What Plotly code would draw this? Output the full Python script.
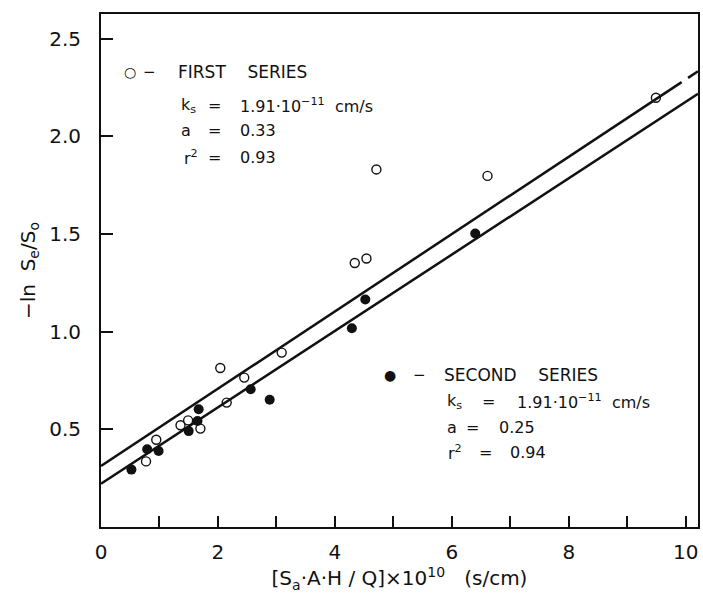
import plotly.graph_objects as go

# ---- data ----
first_x = [9.49, 4.71, 6.61, 4.34, 4.54, 0.77, 0.945, 1.36, 1.49, 1.70, 2.04, 2.45, 3.09, 2.15]
first_y = [2.198, 1.831, 1.798, 1.352, 1.375, 0.336, 0.447, 0.521, 0.546, 0.504, 0.814, 0.765, 0.893, 0.637]

second_x = [0.52, 0.79, 0.985, 1.50, 1.67, 1.65, 2.56, 2.885, 4.29, 4.52, 6.40]
second_y = [0.294, 0.398, 0.389, 0.491, 0.603, 0.543, 0.705, 0.652, 1.018, 1.165, 1.503]

# regression lines (intercept, slope)
first_fit = (0.312, 0.198)
second_fit = (0.222, 0.1955)

first_stats = {"ks": "1.91·10<sup>−11</sup>  cm/s", "a": "0.33", "r2": "0.93"}
second_stats = {"ks": "1.91·10<sup>−11</sup>  cm/s", "a": "0.25", "r2": "0.94"}

x_ticks = [0, 2, 4, 6, 8, 10]
y_ticks = [0.5, 1.0, 1.5, 2.0, 2.5]
y_tick_labels = ["0.5", "1.0", "1.5", "2.0", "2.5"]

X_RANGE = [0, 10.21]
Y_RANGE = [0, 2.627]

INK = "#111111"
FONT = "DejaVu Sans"

fig = go.Figure()

def fit_line(fit, xs):
    b, m = fit
    return [b + m * x for x in xs]

# upper (first series) line: solid, then a short dash near the right edge
seg1 = [0, 9.93]
seg2 = [10.04, X_RANGE[1]]
for seg in (seg1, seg2):
    fig.add_trace(go.Scatter(x=seg, y=fit_line(first_fit, seg), mode="lines",
                             line=dict(color=INK, width=2.5), showlegend=False, hoverinfo="skip"))
segl = [0, X_RANGE[1]]
fig.add_trace(go.Scatter(x=segl, y=fit_line(second_fit, segl), mode="lines",
                         line=dict(color=INK, width=2.5), showlegend=False, hoverinfo="skip"))

fig.add_trace(go.Scatter(x=first_x, y=first_y, mode="markers", name="First series",
                         marker=dict(symbol="circle-open", size=9, color=INK, line=dict(width=1.4, color=INK)),
                         showlegend=False))
fig.add_trace(go.Scatter(x=second_x, y=second_y, mode="markers", name="Second series",
                         marker=dict(symbol="circle", size=10, color=INK),
                         showlegend=False))

def ann(x, y, text, size=16, anchor="left"):
    fig.add_annotation(x=x, y=y, xref="x", yref="y", text=text, showarrow=False,
                       xanchor=anchor, yanchor="middle",
                       font=dict(family=FONT, size=size, color=INK))

# first-series legend block
ann(0.49, 2.33, "○", size=14, anchor="center")
ann(0.83, 2.33, "−", size=15, anchor="center")
ann(1.29, 2.33, "FIRST    SERIES", size=17)
ann(1.33, 2.16, "k<sub>s</sub>")
ann(1.94, 2.16, "=", anchor="center")
ann(2.34, 2.16, first_stats["ks"])
ann(1.33, 2.03, "a")
ann(1.94, 2.03, "=", anchor="center")
ann(2.34, 2.03, first_stats["a"])
ann(1.38, 1.894, "r<sup>2</sup>")
ann(1.94, 1.894, "=", anchor="center")
ann(2.34, 1.894, first_stats["r2"])

# second-series legend block
ann(4.94, 0.78, "●", size=14, anchor="center")
ann(5.45, 0.78, "−", size=15, anchor="center")
ann(5.825, 0.78, "SECOND    SERIES", size=17)
ann(5.88, 0.645, "k<sub>s</sub>")
ann(6.62, 0.645, "=", anchor="center")
ann(7.08, 0.645, second_stats["ks"])
ann(5.88, 0.51, "a")
ann(6.36, 0.51, "=", anchor="center")
ann(6.77, 0.51, second_stats["a"])
ann(5.90, 0.384, "r<sup>2</sup>")
ann(6.57, 0.384, "=", anchor="center")
ann(6.96, 0.384, second_stats["r2"])

fig.update_layout(
    width=703, height=595,
    margin=dict(l=101, r=5, t=14, b=68, autoexpand=False),
    paper_bgcolor="white", plot_bgcolor="white",
    font=dict(family=FONT, color=INK, size=20),
    showlegend=False,
)
fig.update_xaxes(
    range=X_RANGE, tickvals=x_ticks, ticktext=[str(v) for v in x_ticks],
    ticks="inside", ticklen=11, tickwidth=1.6, tickcolor=INK,
    minor=dict(ticks="inside", dtick=1, ticklen=11, tickwidth=1.6, tickcolor=INK),
    showline=True, linecolor=INK, linewidth=2, mirror=True,
    showgrid=False, zeroline=False, automargin=False,
    tickfont=dict(size=20), ticklabelstandoff=6,
    title=dict(text="[S<sub>a</sub>·A·H / Q]×10<sup>10</sup>   (s/cm)", font=dict(size=20), standoff=8),
)
fig.update_yaxes(
    range=Y_RANGE, tickvals=y_ticks, ticktext=y_tick_labels,
    ticks="inside", ticklen=12, tickwidth=1.6, tickcolor=INK,
    showline=True, linecolor=INK, linewidth=2, mirror=True,
    showgrid=False, zeroline=False, automargin=False,
    tickfont=dict(size=20), ticklabelstandoff=14,
    title=dict(text="−ln  S<sub>e</sub>/S<sub>o</sub>", font=dict(size=20), standoff=8),
)

fig.write_html("out.html", config={"displayModeBar": False},
               post_script="document.body.style.margin='0';")
